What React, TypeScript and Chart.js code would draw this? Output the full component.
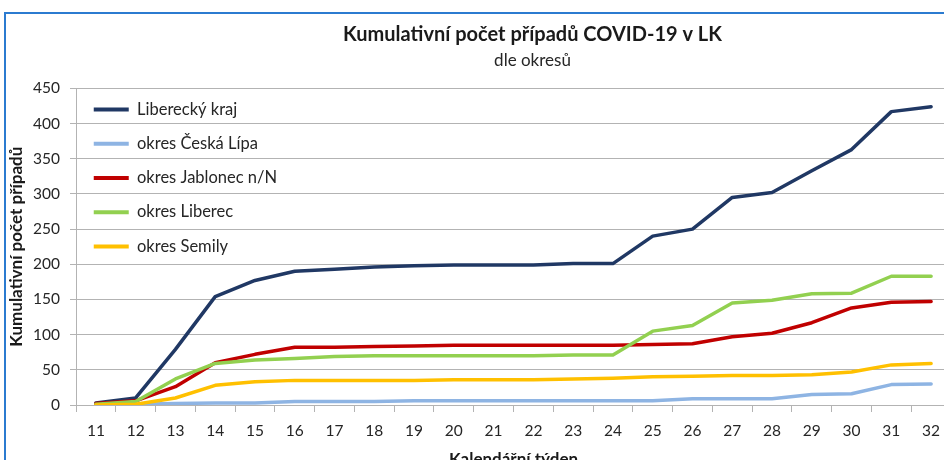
import React, { useEffect, useRef } from "react";
import { Chart, registerables } from "chart.js";

Chart.register(...registerables);

const chartTitle = "Kumulativní počet případů COVID-19 v LK";
const chartSubtitle = "dle okresů";
const xAxisTitle = "Kalendářní týden";
const yAxisTitle = "Kumulativní počet případů";

const weeks = ["11", "12", "13", "14", "15", "16", "17", "18", "19", "20", "21", "22", "23", "24", "25", "26", "27", "28", "29", "30", "31", "32"];

const seriesNames = ["Liberecký kraj", "okres Česká Lípa", "okres Jablonec n/N", "okres Liberec", "okres Semily"];
const seriesColors = ["#203864", "#8eb4e3", "#c00000", "#92d050", "#ffc000"];

const libereckyKraj = [3, 10, 79, 154, 177, 190, 193, 196, 198, 199, 199, 199, 201, 201, 240, 250, 295, 302, 333, 363, 417, 424];
const ceskaLipa = [0, 1, 2, 3, 3, 5, 5, 5, 6, 6, 6, 6, 6, 6, 6, 9, 9, 9, 15, 16, 29, 30];
const jablonec = [2, 6, 26, 60, 72, 82, 82, 83, 84, 85, 85, 85, 85, 85, 86, 87, 97, 102, 117, 138, 146, 147];
const liberec = [1, 5, 37, 59, 64, 66, 69, 70, 70, 70, 70, 70, 71, 71, 105, 113, 145, 149, 158, 159, 183, 183];
const semily = [0, 1, 10, 28, 33, 35, 35, 35, 35, 36, 36, 36, 37, 38, 40, 41, 42, 42, 43, 47, 57, 59];

const yMin = 0;
const yMax = 450;
const yStep = 50;

const FONT = "Lato, 'Open Sans', sans-serif";
const TEXT = "#262626";
const GRID = "#b3b3b3";

const legendShift = {
  id: "legendShift",
  afterLayout(chart: any) {
    const lg = chart.legend;
    const ca = chart.chartArea;
    if (!lg || !ca) return;
    const w = lg.width;
    const h = lg.height;
    lg.left = ca.left;
    lg.right = ca.left + w;
    lg.top = ca.top - 5;
    lg.bottom = ca.top - 5 + h;
  },
};

export default function App() {
  const ref = useRef<HTMLCanvasElement | null>(null);

  useEffect(() => {
    if (!ref.current) return;
    const all = [libereckyKraj, ceskaLipa, jablonec, liberec, semily];
    const chart = new Chart(ref.current, {
      type: "line",
      data: {
        labels: weeks,
        datasets: all.map((d, i) => ({
          label: seriesNames[i],
          data: d,
          borderColor: seriesColors[i],
          backgroundColor: seriesColors[i],
          borderWidth: 3.5,
          pointRadius: 0,
          pointHoverRadius: 0,
          tension: 0,
          fill: false,
          borderCapStyle: "round" as const,
          borderJoinStyle: "round" as const,
          order: all.length - i,
          yAxisID: "y",
        })),
      },
      options: {
        animation: false,
        responsive: false,
        layout: { padding: 0 },
        plugins: {
          title: {
            display: true,
            text: chartTitle,
            color: "#1a1a1a",
            font: { family: FONT, size: 20, weight: "bold", lineHeight: 1.2 },
            padding: { top: 9, bottom: 3 },
          },
          subtitle: {
            display: true,
            text: chartSubtitle,
            color: TEXT,
            font: { family: FONT, size: 17, lineHeight: 1.2 },
            padding: { top: 0, bottom: 18 },
          },
          legend: {
            position: "chartArea" as any,
            align: "start",
            labels: {
              boxWidth: 35,
              boxHeight: 4,
              padding: 17.75,
              color: TEXT,
              font: { family: FONT, size: 16.5 },
              generateLabels: (c: any) =>
                Chart.defaults.plugins.legend.labels
                  .generateLabels(c)
                  .map((l: any) => ({ ...l, lineWidth: 0 })),
              sort: (a: any, b: any) => a.datasetIndex - b.datasetIndex,
            },
          },
          tooltip: { enabled: false },
        },
        scales: {
          x: {
            offset: true,
            grid: {
              offset: true,
              drawOnChartArea: false,
              drawTicks: true,
              tickLength: 7,
              color: GRID,
            },
            border: { color: GRID },
            ticks: {
              padding: 10,
              color: TEXT,
              autoSkip: false,
              maxRotation: 0,
              font: { family: FONT, size: 15.5 },
            },
            title: {
              display: true,
              text: xAxisTitle,
              color: "#1a1a1a",
              font: { family: FONT, size: 17, weight: "bold", lineHeight: 1.2 },
              padding: { top: 0, bottom: 14 },
            },
            afterFit: (s: any) => {
              s.height = 79;
            },
          },
          y: {
            min: yMin,
            max: yMax,
            ticks: {
              stepSize: yStep,
              padding: 10,
              color: TEXT,
              font: { family: FONT, size: 15.5 },
            },
            grid: { color: GRID, tickLength: 6 },
            border: { color: GRID },
            title: {
              display: true,
              text: yAxisTitle,
              color: "#1a1a1a",
              font: { family: FONT, size: 17, weight: "bold", lineHeight: 1.2 },
              padding: 0,
            },
            afterFit: (s: any) => {
              s.width = 70;
            },
          },
          r: {
            type: "linear",
            position: "right",
            display: true,
            grid: { display: false },
            ticks: { display: false },
            border: { display: false },
            afterFit: (s: any) => {
              s.width = 108;
            },
          },
        },
      } as any,
      plugins: [legendShift],
    });
    return () => chart.destroy();
  }, []);

  return (
    <div
      style={{
        position: "fixed",
        left: 0,
        top: 0,
        width: 944,
        height: 460,
        overflow: "hidden",
        background: "#ffffff",
      }}
    >
      <div
        style={{
          position: "absolute",
          left: 4,
          top: 12,
          width: 1060,
          height: 480,
          border: "2px solid #2b7bd0",
          background: "#ffffff",
        }}
      >
        <canvas ref={ref} width={1053} height={470} style={{ display: "block" }} />
      </div>
    </div>
  );
}
